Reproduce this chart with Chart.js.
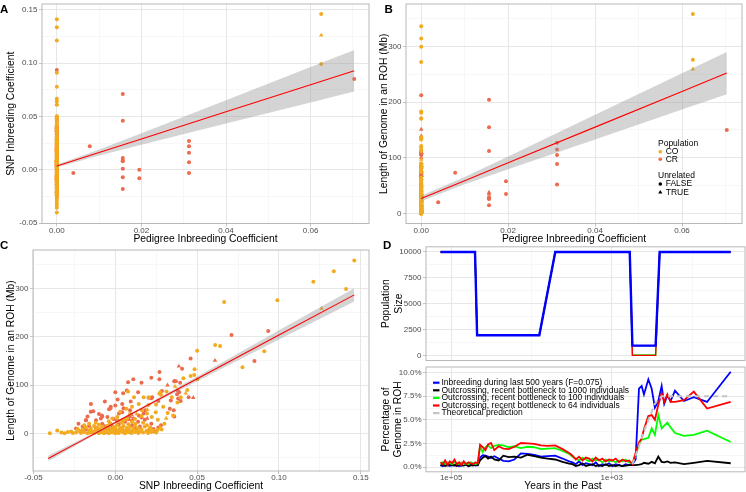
<!DOCTYPE html>
<html><head><meta charset="utf-8">
<script src="https://cdn.jsdelivr.net/npm/chart.js@4/dist/chart.umd.min.js"></script>
<style>
html,body{margin:0;padding:0;background:#fff;}
#wrap{position:relative;width:746px;height:492px;overflow:hidden;font-family:"Liberation Sans",Arial,sans-serif;}
canvas{position:absolute;}
.lab{position:absolute;font-weight:bold;font-size:11.5px;line-height:11.5px;color:#000;}
</style></head><body>
<div id="wrap">
<canvas id="cA" width="373" height="246" style="left:0;top:0"></canvas>
<canvas id="cB" width="373" height="246" style="left:373px;top:0"></canvas>
<canvas id="cC" width="373" height="246" style="left:0;top:246px"></canvas>
<canvas id="cD1" width="373" height="117" style="left:373px;top:246px"></canvas>
<canvas id="cD2" width="373" height="129" style="left:373px;top:363px"></canvas>
<div class="lab" style="left:0;top:3.5px">A</div>
<div class="lab" style="left:384.5px;top:3.5px">B</div>
<div class="lab" style="left:0;top:240px">C</div>
<div class="lab" style="left:383px;top:239.5px">D</div>
</div>
<script>
// ================= DATA =================
// Individuals with pedigree F = 0 : [SNP inbreeding coefficient, ROH length (Mb)]
const coCircle0 = [
[-0.040,0],[-0.0355,6],[-0.031,0],[-0.029,3],[0.1335,336],[0.121,314],[0.141,299],[0.0665,272],[0.061,183],[0.064,181],[0.050,171],[0.091,170],[0.0777,137],
[0.0484,133],[0.0482,121],[0.046,119],[0.0502,112],[0.0416,114],[0.0275,85],[0.0279,80],[0.0313,87],[0.040,75],[0.0345,75],[0.0249,60],[0.0205,75],
[0.0078,87],[0.0114,75],[0.0173,75],[0.0269,82],[0.0102,55],[0.0068,51],[0.0143,61],[0.0163,48],[0.0193,41],[0.0203,59],[0.0223,34],[0.0247,44],[0.0293,55],[0.0353,37],
[0.0072,31],[0.0012,34],[-0.0018,31],[0.0042,27],[0.0102,24],[0.0122,20],[0.0193,17],[0.0213,12],[0.0259,7],[0.0283,8],
[-0.024,2],[-0.022,5],[-0.021,1],[-0.020,8],[-0.019,3],[-0.018,12],[-0.017,0],[-0.016,6],[-0.015,2],[-0.015,10],[-0.014,4],[-0.013,15],[-0.013,1],[-0.012,7],
[-0.011,3],[-0.011,11],[-0.010,0],[-0.010,18],[-0.009,5],[-0.009,9],[-0.008,2],[-0.008,14],[-0.007,6],[-0.007,1],[-0.006,10],[-0.006,3],[-0.005,16],[-0.005,7],
[-0.004,0],[-0.004,12],[-0.003,4],[-0.003,20],[-0.002,8],[-0.002,2],[-0.001,13],[-0.001,5],[0.000,0],[0.000,10],[0.001,3],[0.001,17],[0.002,7],[0.002,1],
[0.003,12],[0.003,4],[0.004,22],[0.004,8],[0.005,2],[0.005,15],[0.006,6],[0.006,0],[0.007,11],[0.007,3],[0.008,19],[0.008,7],[0.009,2],[0.009,13],
[0.010,5],[0.010,1],[0.011,9],[0.012,3],[0.012,16],[0.013,6],[0.014,1],[0.014,11],[0.015,4],[0.016,8],[0.017,2],[0.018,14],[0.019,5],[0.020,1],
[0.021,9],[0.022,3],[0.023,6],[0.025,2],[-0.016,20],[-0.012,22],[-0.004,25],[0.002,26],[0.006,28],[0.012,30],[0.017,22],[-0.019,17],[-0.026,1],[-0.027,4],
[-0.033,2],[-0.023,9],[0.044,90],[0.038,64],[0.032,42],[0.030,20],[0.026,28],[0.016,36],[0.009,40],[0.003,45]
];
const coTri0 = [[0.0311,31],[0.0273,13],[0.043,83],[0.0365,97],[0.0195,49],[0.013,40]];
const crCircle0 = [
[0.0934,212],[0.0078,106],[0.0269,112],[0.000,85],[-0.0064,66],[-0.0149,61],[-0.0135,46],[0.0048,83],[0.0014,70],[-0.0028,55],[-0.0038,50],
[0.0094,66],[0.0139,85],[0.0203,74],[0.0263,67],[0.0363,108],[0.0384,72],[0.0408,134],[0.0396,105],[0.036,108],[0.037,108],[0.0285,88],[0.0381,89],
[0.039,85],[0.0377,81],[0.0448,75],[0.0399,67],[0.0339,68],[0.0225,75],[0.0042,61],[0.0333,51],[0.0357,48],[0.036,35],
[-0.0225,20],[-0.020,14],[-0.0179,27],[-0.0118,27],[-0.0088,31],[-0.0082,37],[-0.0048,34],[0.0022,41],[0.0042,44],[0.0082,34],[0.0112,31],
[0.0139,24],[0.0102,17],[0.0143,37],[0.0173,41],[0.0183,48],[0.0233,9],[0.0263,12],[0.0279,17],
[-0.024,10],[-0.021,4],[-0.018,8],[-0.016,15],[-0.014,3],[-0.012,12],[-0.010,6],[-0.008,20],[-0.006,2],[-0.004,9],[-0.002,15],[0.000,4],
[0.002,19],[0.004,11],[0.006,24],[0.008,5],[0.010,26],[0.012,10],[0.015,14],[0.018,28],[0.020,6],[0.022,20],[-0.017,35],[-0.015,45],
[-0.010,40],[0.005,52],[0.009,48],[-0.001,30],[0.016,33],[0.024,4]
];
const crTri0 = [[0.0388,139],[0.0609,151],[0.0319,100],[0.0476,74],[0.0195,31]];
// Individuals with pedigree F > 0 : [pedigree F, SNP F, ROH (Mb)]
const coCirclePed = [[0.0625,0.146,358],[0.0625,0.099,276]];
const coTriPed = [[0.0625,0.126,259]];
const crCirclePed = [[0.0039,-0.003,20],[0.0078,0.022,73],[0.0156,0.071,204],[0.0156,0.046,155],[0.0156,0.011,112],[0.0156,0.008,29],
[0.0156,0.001,26],[0.0156,-0.007,15],[0.0156,-0.018,27],[0.0195,0.000,58],[0.0195,-0.008,35],[0.03125,0.027,127],[0.03125,0.022,115],
[0.03125,0.016,105],[0.03125,0.007,89],[0.03125,-0.003,52],[0.0703,0.085,150]];
const crTriPed = [[0.0156,0.010,38],[0.0156,0.009,35]];

// Fitted lines and confidence ribbons
const fitAx = [0, 0.01, 0.02, 0.04, 0.06, 0.0703];
const fitAy = [0.0035, 0.0162, 0.0289, 0.0543, 0.0797, 0.0928];
const fitAlo = [0.0022, 0.0135, 0.0235, 0.0434, 0.0631, 0.0733];
const fitAhi = [0.0048, 0.0189, 0.0343, 0.0652, 0.0963, 0.1123];
const fitBx = [0, 0.01, 0.02, 0.04, 0.06, 0.0703];
const fitBy = [27, 59, 91, 155, 219, 252];
const fitBlo = [22, 52.5, 79.5, 133, 186.5, 214];
const fitBhi = [32, 65.5, 102.5, 177, 251.5, 290];
const fitCx = [-0.041, -0.02, 0, 0.02, 0.05, 0.1, 0.146];
const fitCy = [-52, -14, 22.3, 58.6, 113, 204, 287];
const fitClo = [-58, -17.5, 20, 55.8, 108, 194.5, 273.5];
const fitChi = [-46, -10.5, 24.5, 61.4, 118, 213.5, 300.5];

// Panel D top: population size history
const popYears = [135700, 50400, 47500, 7980, 5050, 597, 553, 284, 253, 33];
const popBlue  = [10000,10000,2000,2000,10000,10000,1000,1000,10000,10000];
const popBlack = [10000,10000,2000,2000,10000,10000,1000,1000,10000,10000];
const popGreen = [10000,10000,2000,2000,10000,10000,100,100,10000,10000];
const popRed   = [10000,10000,2000,2000,10000,10000,64,64,10000,10000];

// Panel D bottom: percentage of genome in ROH by age
const rohYears = [135700,126900,118700,111000,103900,97200,90900,85000,79500,74400,69600,65100,60900,57000,53300,49900,46600,
43600,40400,37400,34700,31900,29000,25600,22400,19200,16300,13500,11200,9220,7620,6300,5060,4100,3390,
3080,2800,2550,2310,2100,1910,1740,1580,1440,1310,1190,1080,981,892,811,737,670,609,554,
504,458,424,397,350,318,290,263,239,222,203,185,163,126,95,65,33];
const rohBlue = [0.2,0.1,0.3,0.2,0.1,0.25,0.15,0.3,0.1,0.2,0.15,0.25,0.1,0.2,0.3,0.15,0.2,
1.0,1.25,1.2,1.1,0.95,1.15,0.9,0.65,0.6,0.8,1.45,1.4,1.3,1.1,1.15,1.2,0.9,0.6,
0.5,0.3,0.6,0.2,0.4,0.3,0.2,0.5,0.1,0.3,0.2,0.4,0.1,0.3,0.2,0.1,0.3,0.2,0.3,
0.8,8.3,8.6,7.7,9.3,8.3,6.3,7.0,8.6,6.7,7.6,7.0,8.1,7.0,7.4,6.9,10.1];
const rohBlack = [0.15,0.25,0.1,0.2,0.3,0.15,0.2,0.1,0.25,0.15,0.2,0.3,0.1,0.2,0.15,0.25,0.2,
0.7,1.0,1.15,0.9,1.1,0.8,0.7,1.2,1.05,1.1,1.0,1.3,1.15,1.0,0.9,0.8,0.55,0.35,
0.3,0.1,0.2,0.4,0.1,0.2,0.3,0.1,0.2,0.1,0.3,0.1,0.2,0.1,0.2,0.1,0.15,0.2,0.2,
0.2,0.25,0.3,0.45,0.35,0.55,0.4,1.1,0.55,0.5,0.6,0.45,0.5,0.3,0.45,0.65,0.4];
const rohGreen = [0.4,0.5,0.3,0.5,0.4,0.3,0.5,0.4,0.3,0.5,0.3,0.4,0.3,0.5,0.4,0.3,0.4,
2.2,1.6,2.1,2.3,2.0,2.25,2.35,2.3,2.1,2.2,2.0,2.15,2.1,1.9,1.95,2.0,1.7,1.4,
1.1,0.9,0.7,1.0,0.8,0.6,0.9,0.7,0.8,0.5,0.8,0.6,0.7,0.5,0.7,0.6,0.8,0.5,0.4,
1.2,2.5,2.9,2.95,3.1,4.1,3.4,5.5,4.1,4.4,4.7,4.2,3.6,3.3,3.4,3.85,2.65];
const rohRed = [0.5,0.3,0.7,0.2,0.6,0.4,0.8,0.3,0.5,0.2,0.6,0.3,0.5,0.4,0.3,0.5,0.4,
2.35,2.1,1.8,2.4,2.55,1.8,2.2,1.95,1.9,2.15,2.55,2.5,2.45,2.3,2.25,2.3,1.9,1.5,
1.2,0.8,1.1,0.7,1.0,0.9,0.6,1.0,0.7,0.9,0.6,0.8,0.7,0.9,0.5,0.8,0.6,0.7,0.3,
1.5,2.6,3.0,4.0,5.4,5.5,5.0,6.6,7.8,6.9,7.7,6.9,6.9,7.1,8.0,6.2,6.9];
const theoryYears = [554, 458, 397, 350, 290, 239, 33];
const theoryPct = [0.3, 2.2, 3.8, 5.0, 6.7, 7.5, 7.5];

const scenarioLabels = ['Inbreeding during last 500 years (F=0.075)','Outcrossing, recent bottleneck to 1000 individuals',
'Outcrossing, recent bottleneck to 100 individuals','Outcrossing, recent bottleneck to 64 individuals','Theoretical prediction'];
const popLevels = ['CO','CR'];
const unrelatedLevels = ['FALSE','TRUE'];
const dXTitle = 'Years in the Past';

// Tick values / labels
const pedTicks = [0, 0.02, 0.04, 0.06], pedLabels = ['0.00','0.02','0.04','0.06'], pedMinor = [0.01,0.03,0.05,0.07];
const snpTicks = [-0.05, 0, 0.05, 0.10, 0.15], snpLabels = ['-0.05','0.00','0.05','0.10','0.15'], snpMinor = [-0.025,0.025,0.075,0.125];
const rohTicks = [0, 100, 200, 300], rohLabels = ['0','100','200','300'];
const popTicks = [0, 2500, 5000, 7500, 10000], popLabelsT = ['0','2500','5000','7500','10000'], popMinor = [1250,3750,6250,8750];
const yrTicks = [1e5, 1e3], yrLabels = ['1e+05','1e+03'], yrMinor = [1e4, 1e2];
const pctTicks = [0, 2.5, 5, 7.5, 10], pctLabels = ['0.0%','2.5%','5.0%','7.5%','10.0%'], pctMinor = [1.25,3.75,6.25,8.75];

// ================= DRAWING =================
Chart.defaults.font.family = '"Liberation Sans", Arial, Helvetica, sans-serif';
const FONT = '"Liberation Sans", Arial, sans-serif';
const CO_COL = '#F2AA1F', CR_COL = '#EC6A4E';
const RIB = 'rgba(153,153,153,0.42)';

const framePlugin = { id:'frame', afterDraw(chart){ const {ctx, chartArea:a} = chart; ctx.save(); ctx.strokeStyle='#B8B8B8'; ctx.lineWidth=1; ctx.strokeRect(a.left, a.top, a.right-a.left, a.bottom-a.top); ctx.restore(); } };

function axis(o){
  const isMajor = v => o.major.indexOf(v) >= 0;
  return {
    type: o.type || 'linear', position: o.pos, min: o.min, max: o.max, reverse: !!o.reverse,
    afterBuildTicks: s => { s.ticks = o.major.concat(o.minor).sort((a,b)=>a-b).map(v => ({value: v})); },
    afterFit: s => { if (o.pos === 'left') s.width = o.size; else s.height = o.size; s.paddingLeft = s.paddingRight = s.paddingTop = s.paddingBottom = 0; },
    grid: { color: c => isMajor(c.tick.value) ? '#E4E4E4' : '#F1F1F1', lineWidth: c => isMajor(c.tick.value) ? 0.9 : 0.6,
            tickLength: o.tl === undefined ? 3 : o.tl, tickColor: c => isMajor(c.tick.value) ? '#B3B3B3' : 'rgba(0,0,0,0)', tickWidth: 0.8 },
    border: { display: false },
    ticks: { display: !!o.labels, autoSkip: false, maxRotation: 0, minRotation: 0, padding: o.tp === undefined ? 1.5 : o.tp, color: '#4D4D4D', font: { size: 8 },
             callback: v => { const i = o.major.indexOf(v); return (i >= 0 && o.labels) ? o.labels[i] : ''; } },
    title: { display: !!o.title, text: o.title, color: '#000', font: { size: 10.3 }, padding: o.tpad || 0 }
  };
}
function sc(data, color, tri, order){ return { type:'scatter', data, backgroundColor: color, borderColor: color, borderWidth: 0, pointStyle: tri ? 'triangle' : 'circle', pointRadius: tri ? 2.6 : 2.0, order }; }
function ln(data, color, width, order, extra){ return Object.assign({ type:'line', data, borderColor: color, borderWidth: width, pointRadius: 0, fill: false, tension: 0, order }, extra || {}); }
const xy = (xs, ys) => xs.map((x, i) => ({x, y: ys[i]}));
function makeChart(id, datasets, xAx, yAx, pad, plugins){
  return new Chart(document.getElementById(id), {
    type: 'scatter', data: { datasets },
    options: { responsive:false, animation:false, events:[], devicePixelRatio:1, layout:{ padding: pad },
      scales: { x: xAx, y: yAx }, plugins: { legend:{display:false}, tooltip:{enabled:false} } },
    plugins: [framePlugin].concat(plugins || [])
  });
}
function fitSets(xs, ys, lo, hi){
  return [ ln(xy(xs, lo), 'rgba(0,0,0,0)', 0, 2), ln(xy(xs, hi), 'rgba(0,0,0,0)', 0, 2, {fill: '-1', backgroundColor: RIB}), ln(xy(xs, ys), '#FF0000', 1.1, 1) ];
}
function pts(list0, listPed, f0, fp){ return list0.map(f0).concat(listPed.map(fp)); }

// ---- Panel A: pedigree F vs SNP F ----
makeChart('cA', [
  sc(pts(crCircle0, crCirclePed, d=>({x:0,y:d[0]}), d=>({x:d[0],y:d[1]})), CR_COL, false, 6),
  sc(pts(crTri0, crTriPed, d=>({x:0,y:d[0]}), d=>({x:d[0],y:d[1]})), CR_COL, true, 6),
  sc(pts(coCircle0, coCirclePed, d=>({x:0,y:d[0]}), d=>({x:d[0],y:d[1]})), CO_COL, false, 5),
  sc(pts(coTri0, coTriPed, d=>({x:0,y:d[0]}), d=>({x:d[0],y:d[1]})), CO_COL, true, 5)
].concat(fitSets(fitAx, fitAy, fitAlo, fitAhi)),
  axis({pos:'bottom', min:-0.0035, max:0.0738, major:pedTicks, minor:pedMinor, labels:pedLabels, size:22.5, tp:-0.5, title:'Pedigree Inbreeding Coefficient', tpad:{top:0,bottom:0.3}}),
  axis({pos:'left', min:-0.0503, max:0.1553, major:snpTicks, minor:snpMinor, labels:snpLabels, size:42, title:'SNP Inbreeding Coefficient', tpad:{top:4.8,bottom:0}}),
  {top:0.5, right:1, left:0, bottom:0});

// ---- Panel B: pedigree F vs ROH ----
const bLegend = { id:'bLegend', afterDraw(chart){
  const ctx = chart.ctx; ctx.save(); ctx.font = '8.5px ' + FONT; ctx.textBaseline = 'middle'; ctx.fillStyle = '#000';
  ctx.fillText('Population', 285, 143.3);
  [CO_COL, CR_COL].forEach((c, i) => { const y = 151.7 + i*7.6; ctx.fillStyle = c; ctx.beginPath(); ctx.arc(287.3, y, 1.8, 0, Math.PI*2); ctx.fill(); ctx.fillStyle = '#000'; ctx.fillText(popLevels[i], 292.7, y); });
  ctx.fillText('Unrelated', 285, 175.7);
  unrelatedLevels.forEach((t, i) => { const y = 184 + i*8.3; ctx.fillStyle = '#000'; ctx.beginPath();
    if (i === 0) ctx.arc(287.3, y, 1.8, 0, Math.PI*2); else { ctx.moveTo(287.3, y-2.4); ctx.lineTo(289.4, y+1.3); ctx.lineTo(285.2, y+1.3); ctx.closePath(); }
    ctx.fill(); ctx.fillText(t, 292.7, y); });
  ctx.restore(); } };
makeChart('cB', [
  sc(pts(crCircle0, crCirclePed, d=>({x:0,y:d[1]}), d=>({x:d[0],y:d[2]})), CR_COL, false, 6),
  sc(pts(crTri0, crTriPed, d=>({x:0,y:d[1]}), d=>({x:d[0],y:d[2]})), CR_COL, true, 6),
  sc(pts(coCircle0, coCirclePed, d=>({x:0,y:d[1]}), d=>({x:d[0],y:d[2]})), CO_COL, false, 5),
  sc(pts(coTri0, coTriPed, d=>({x:0,y:d[1]}), d=>({x:d[0],y:d[2]})), CO_COL, true, 5)
].concat(fitSets(fitBx, fitBy, fitBlo, fitBhi)),
  axis({pos:'bottom', min:-0.0035, max:0.0738, major:pedTicks, minor:pedMinor, labels:pedLabels, size:22.5, tp:-0.5, title:'Pedigree Inbreeding Coefficient', tpad:{top:0,bottom:0.2}}),
  axis({pos:'left', min:-17.9, max:375.9, major:rohTicks, minor:[50,150,250,350], labels:rohLabels, size:33, title:'Length of Genome in an ROH (Mb)', tpad:{top:5.3,bottom:0}}),
  {top:0.5, right:0.5, left:0, bottom:0}, [bLegend]);

// ---- Panel C: SNP F vs ROH ----
makeChart('cC', [
  sc(pts(crCircle0, crCirclePed, d=>({x:d[0],y:d[1]}), d=>({x:d[1],y:d[2]})), CR_COL, false, 6),
  sc(pts(crTri0, crTriPed, d=>({x:d[0],y:d[1]}), d=>({x:d[1],y:d[2]})), CR_COL, true, 6),
  sc(pts(coCircle0, coCirclePed, d=>({x:d[0],y:d[1]}), d=>({x:d[1],y:d[2]})), CO_COL, false, 5),
  sc(pts(coTri0, coTriPed, d=>({x:d[0],y:d[1]}), d=>({x:d[1],y:d[2]})), CO_COL, true, 5)
].concat(fitSets(fitCx, fitCy, fitClo, fitChi)),
  axis({pos:'bottom', min:-0.0503, max:0.1550, major:snpTicks, minor:snpMinor, labels:snpLabels, size:21, tp:-1, title:'SNP Inbreeding Coefficient', tpad:{top:0,bottom:0}}),
  axis({pos:'left', min:-78, max:380, major:rohTicks, minor:[-50,50,150,250,350], labels:rohLabels, size:33, title:'Length of Genome in an ROH (Mb)', tpad:{top:4.6,bottom:0}}),
  {top:2, right:1, left:0, bottom:0});

// ---- Panel D top: population size ----
makeChart('cD1', [
  ln(xy(popYears, popBlue), '#0000FF', 2.4, 0),
  ln(xy(popYears, popRed), '#FF0000', 1.4, 1),
  ln(xy(popYears, popGreen), '#00FF00', 1.4, 2),
  ln(xy(popYears, popBlack), '#000000', 1.4, 3)
],
  axis({type:'logarithmic', reverse:true, pos:'bottom', min:21.9, max:205600, major:yrTicks, minor:yrMinor, labels:null, size:2.5, tl:0}),
  axis({pos:'left', min:-433, max:10497, major:popTicks, minor:popMinor, labels:popLabelsT, size:53, title:['Population','Size'], tpad:{top:7.3,bottom:0}}),
  {top:0.8, right:1, left:0, bottom:0});

// ---- Panel D bottom: % genome in ROH ----
const dLegend = { id:'dLegend', afterDraw(chart){
  const ctx = chart.ctx; ctx.save(); ctx.font = '8.5px ' + FONT; ctx.textBaseline = 'middle';
  [0,1,2,3,4].forEach(r => { const ds = chart.data.datasets[r]; const y = 19.7 + r*7.6;
    ctx.strokeStyle = ds.legendColor || ds.borderColor; ctx.lineWidth = 2.2; ctx.setLineDash([]);
    ctx.beginPath(); ctx.moveTo(60, y); ctx.lineTo(66.5, y); ctx.stroke();
    ctx.fillStyle = '#000'; ctx.fillText(ds.label, 68.5, y); });
  // x-axis title, centred on the whole panel D
  ctx.font = '10.3px ' + FONT; ctx.textAlign = 'center'; ctx.fillText(dXTitle, 190, 123);
  ctx.restore(); } };
makeChart('cD2', [
  ln(xy(rohYears, rohBlue), '#0000FF', 1.8, 4, {label: scenarioLabels[0]}),
  ln(xy(rohYears, rohBlack), '#000000', 1.8, 3, {label: scenarioLabels[1]}),
  ln(xy(rohYears, rohGreen), '#00FF00', 1.8, 2, {label: scenarioLabels[2]}),
  ln(xy(rohYears, rohRed), '#FF0000', 1.8, 1, {label: scenarioLabels[3]}),
  ln(xy(theoryYears, theoryPct), '#C4C4C4', 2, 0, {label: scenarioLabels[4], borderDash:[5,4], legendColor:'#C4C4C4'})
],
  axis({type:'logarithmic', reverse:true, pos:'bottom', min:21.9, max:205600, major:yrTicks, minor:yrMinor, labels:yrLabels, size:20.2, tp:-1.5}),
  axis({pos:'left', min:-0.505, max:10.605, major:pctTicks, minor:pctMinor, labels:pctLabels, size:53, title:['Percentage of','Genome in ROH'], tpad:{top:7.1,bottom:0}}),
  {top:4, right:1, left:0, bottom:0}, [dLegend]);
</script>
</body></html>
